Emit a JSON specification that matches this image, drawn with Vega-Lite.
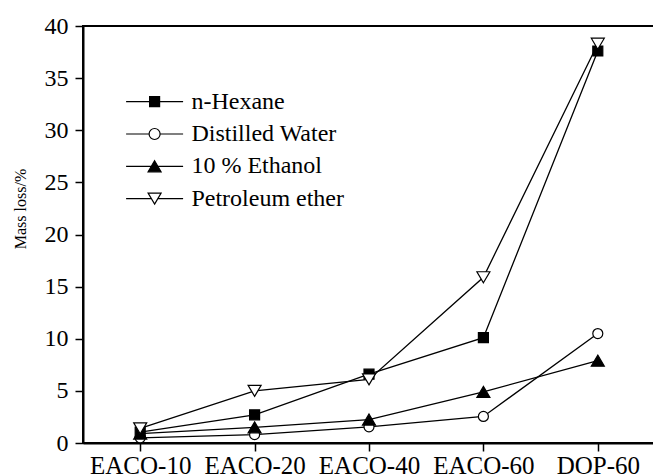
{
  "$schema": "https://vega.github.io/schema/vega-lite/v6.json",
  "width": 572,
  "height": 417,
  "autosize": "none",
  "padding": {"left": 83, "top": 26, "right": -2, "bottom": 33},
  "background": "white",
  "config": {
    "view": {"stroke": "black", "strokeWidth": 2},
    "font": "Liberation Serif",
    "axis": {
      "grid": false,
      "domainColor": "black",
      "tickColor": "black",
      "labelColor": "black",
      "titleColor": "black",
      "labelFont": "Liberation Serif",
      "titleFont": "Liberation Serif",
      "titleFontWeight": "normal",
      "domainWidth": 2,
      "tickWidth": 1.5
    }
  },
  "data": {
    "values": [
      {"sample": "EACO-10", "series": "n-Hexane", "value": 1.05},
      {"sample": "EACO-20", "series": "n-Hexane", "value": 2.7},
      {"sample": "EACO-40", "series": "n-Hexane", "value": 6.6},
      {"sample": "EACO-60", "series": "n-Hexane", "value": 10.1},
      {"sample": "DOP-60", "series": "n-Hexane", "value": 37.6},
      {"sample": "EACO-10", "series": "Distilled Water", "value": 0.5},
      {"sample": "EACO-20", "series": "Distilled Water", "value": 0.8},
      {"sample": "EACO-40", "series": "Distilled Water", "value": 1.55},
      {"sample": "EACO-60", "series": "Distilled Water", "value": 2.55},
      {"sample": "DOP-60", "series": "Distilled Water", "value": 10.5},
      {"sample": "EACO-10", "series": "10 % Ethanol", "value": 0.9},
      {"sample": "EACO-20", "series": "10 % Ethanol", "value": 1.5},
      {"sample": "EACO-40", "series": "10 % Ethanol", "value": 2.25},
      {"sample": "EACO-60", "series": "10 % Ethanol", "value": 4.9},
      {"sample": "DOP-60", "series": "10 % Ethanol", "value": 7.9},
      {"sample": "EACO-10", "series": "Petroleum ether", "value": 1.4},
      {"sample": "EACO-20", "series": "Petroleum ether", "value": 5.0},
      {"sample": "EACO-40", "series": "Petroleum ether", "value": 6.1},
      {"sample": "EACO-60", "series": "Petroleum ether", "value": 15.9},
      {"sample": "DOP-60", "series": "Petroleum ether", "value": 38.3}
    ]
  },
  "layer": [
    {
      "mark": {"type": "line", "color": "black", "strokeWidth": 1.3},
      "encoding": {
        "x": {
          "field": "sample",
          "type": "nominal",
          "sort": ["EACO-10", "EACO-20", "EACO-40", "EACO-60", "DOP-60"],
          "scale": {"type": "point", "padding": 0.5},
          "axis": {"orient": "bottom", "labelFontSize": 25, "labelAngle": 0, "labelPadding": 2, "tickSize": 8, "title": null}
        },
        "y": {
          "field": "value",
          "type": "quantitative",
          "scale": {"domain": [0, 40], "nice": false},
          "axis": {
            "orient": "left",
            "values": [0, 2.5, 5, 7.5, 10, 12.5, 15, 17.5, 20, 22.5, 25, 27.5, 30, 32.5, 35, 37.5, 40],
            "labelExpr": "datum.value % 5 === 0 ? datum.label : ''",
            "tickSize": {"condition": {"test": "datum.value % 5 !== 0", "value": 4}, "value": 8},
            "labelFontSize": 24,
            "labelPadding": 7,
            "title": "Mass loss/%",
            "titleFontSize": 16,
            "titleAlign": "center",
            "titleBaseline": "middle",
            "titleAngle": -90,
            "titleX": -63,
            "titleY": 182.5
          }
        },
        "detail": {"field": "series"}
      }
    },
    {
      "mark": {"type": "point", "size": 100, "opacity": 1, "filled": true, "stroke": "black", "strokeWidth": 1.2},
      "encoding": {
        "x": {
          "field": "sample",
          "type": "nominal",
          "sort": ["EACO-10", "EACO-20", "EACO-40", "EACO-60", "DOP-60"]
        },
        "y": {"field": "value", "type": "quantitative"},
        "shape": {
          "field": "series",
          "type": "nominal",
          "scale": {
            "domain": ["n-Hexane", "Distilled Water", "10 % Ethanol", "Petroleum ether"],
            "range": ["square", "circle", "M0,-1.1L1.3,1.1L-1.3,1.1Z", "M0,1.1L1.3,-1.1L-1.3,-1.1Z"]
          },
          "legend": null
        },
        "fill": {
          "field": "series",
          "type": "nominal",
          "scale": {
            "domain": ["n-Hexane", "Distilled Water", "10 % Ethanol", "Petroleum ether"],
            "range": ["black", "white", "black", "white"]
          },
          "legend": null
        }
      }
    },
    {
      "transform": [{"filter": "false"}],
      "mark": {"type": "point", "size": 100, "filled": true, "strokeWidth": 1.2},
      "encoding": {
        "shape": {
          "field": "series",
          "type": "nominal",
          "scale": {
            "domain": ["n-Hexane", "Distilled Water", "10 % Ethanol", "Petroleum ether"],
            "range": [
              "M-5.7,0H5.7M-1,-1H1V1H-1Z",
              "M-5.7,0H-1.1M1.1,0H5.7M-1.1,0A1.1,1.1,0,1,0,1.1,0A1.1,1.1,0,1,0,-1.1,0Z",
              "M-5.7,0H5.7M0,-1.1L1.3,1.1L-1.3,1.1Z",
              "M-5.7,0H-0.65M0.65,0H5.7M0,1.1L1.3,-1.1L-1.3,-1.1Z"
            ]
          },
          "legend": {
            "orient": "none",
            "legendX": 59.6,
            "legendY": 63.7,
            "title": null,
            "padding": 0,
            "symbolSize": 100,
            "symbolStrokeWidth": 1.2,
            "symbolOpacity": 1,
            "labelFont": "Liberation Serif",
            "labelFontSize": 24,
            "labelColor": "black",
            "labelLimit": 300,
            "labelOffset": 24.8,
            "rowPadding": 8.3,
            "labelExpr": "datum.label === 'Petroleum ether' ? '\u00a0Petroleum ether' : datum.label"
          }
        },
        "fill": {
          "field": "series",
          "type": "nominal",
          "scale": {
            "domain": ["n-Hexane", "Distilled Water", "10 % Ethanol", "Petroleum ether"],
            "range": ["black", "white", "black", "white"]
          },
          "legend": {
            "orient": "none",
            "legendX": 59.6,
            "legendY": 63.7,
            "title": null,
            "padding": 0,
            "symbolSize": 100,
            "symbolStrokeWidth": 1.2,
            "symbolOpacity": 1,
            "labelFont": "Liberation Serif",
            "labelFontSize": 24,
            "labelColor": "black",
            "labelLimit": 300,
            "labelOffset": 24.8,
            "rowPadding": 8.3,
            "labelExpr": "datum.label === 'Petroleum ether' ? '\u00a0Petroleum ether' : datum.label"
          }
        },
        "stroke": {
          "field": "series",
          "type": "nominal",
          "scale": {
            "domain": ["n-Hexane", "Distilled Water", "10 % Ethanol", "Petroleum ether"],
            "range": ["black", "black", "black", "black"]
          },
          "legend": {
            "orient": "none",
            "legendX": 59.6,
            "legendY": 63.7,
            "title": null,
            "padding": 0,
            "symbolSize": 100,
            "symbolStrokeWidth": 1.2,
            "symbolOpacity": 1,
            "labelFont": "Liberation Serif",
            "labelFontSize": 24,
            "labelColor": "black",
            "labelLimit": 300,
            "labelOffset": 24.8,
            "rowPadding": 8.3,
            "labelExpr": "datum.label === 'Petroleum ether' ? '\u00a0Petroleum ether' : datum.label"
          }
        }
      }
    }
  ],
  "resolve": {
    "scale": {"shape": "independent", "fill": "independent", "stroke": "independent"}
  }
}
